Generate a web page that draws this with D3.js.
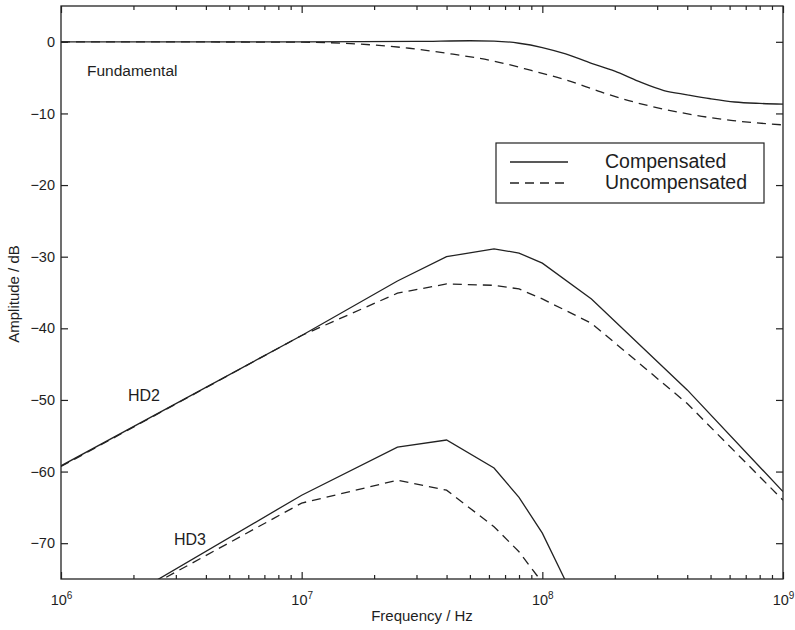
<!DOCTYPE html>
<html>
<head>
<meta charset="utf-8">
<script src="https://cdn.jsdelivr.net/npm/d3@7"></script>
<style>
body { margin: 0; background: #fff; }
svg text { font-family: "Liberation Sans", Arial, sans-serif; fill: #1e1e1e; }
.axis path { display: none; }
.axis line { stroke: #222; stroke-width: 1.2; }
.curve { fill: none; stroke: #222; stroke-width: 1.3; }
.dash { stroke-dasharray: 9,6; }
</style>
</head>
<body>
<div class="container"></div>
<script>
// fundamental
var fundFreqC = [1e6, 1e7, 3e7, 5e7, 6.3e7, 8e7, 1e8, 1.25e8, 1.6e8, 2e8, 2.5e8, 3.2e8, 4e8, 5e8, 6.3e8, 8e8, 1e9];
var fundComp  = [0, 0, 0.05, 0.15, 0.1, -0.2, -0.8, -1.7, -3.0, -4.1, -5.5, -6.8, -7.4, -7.95, -8.4, -8.6, -8.7];
var fundFreqU = [1e6, 1e7, 1.6e7, 2e7, 2.8e7, 4e7, 6.3e7, 9e7, 1.25e8, 1.75e8, 2.4e8, 3.3e8, 4.6e8, 6.2e8, 1e9];
var fundUncomp = [0, -0.05, -0.25, -0.45, -0.9, -1.6, -2.7, -4.0, -5.3, -7.0, -8.4, -9.5, -10.4, -11.0, -11.6];

// second harmonic
var hd2Freq   = [1e6, 1e7, 2.5e7, 4e7, 6.3e7, 8e7, 1e8, 1.6e8, 4e8, 1e9];
var hd2Comp   = [-59.2, -41.0, -33.4, -30.0, -28.9, -29.5, -30.9, -35.9, -48.6, -62.8];
var hd2Uncomp = [-59.3, -41.0, -35.1, -33.8, -34.0, -34.5, -35.9, -39.3, -50.5, -64.0];

// third harmonic
var hd3Freq   = [1e6, 1e7, 2.5e7, 4e7, 6.3e7, 8e7, 1e8, 1.25e8];
var hd3Comp   = [-83.0, -63.3, -56.6, -55.6, -59.5, -63.6, -68.6, -75.3];
var hd3Uncomp = [-82.8, -64.4, -61.2, -62.6, -67.7, -71.2, -75.5, -82.0];

var yTicks = [0, -10, -20, -30, -40, -50, -60, -70];
var xMajor = [1e6, 1e7, 1e8, 1e9];
var legendLabels = ["Compensated", "Uncompensated"];

var margin = {top: 6, right: 12, bottom: 51, left: 61};
var width = 795 - margin.left - margin.right;
var height = 630 - margin.top - margin.bottom;

var x = d3.scaleLog().domain([1e6, 1e9]).range([0, width]);
var y = d3.scaleLinear().domain([-75, 5]).range([height, 0]);

var xMinor = [];
xMajor.slice(0, 3).forEach(function(d) {
  for (var k = 2; k <= 9; k++) xMinor.push(d * k);
});

var svg = d3.select(".container")
    .append("svg")
    .attr("width", 795)
    .attr("height", 630)
    .append("g")
    .attr("transform", "translate(" + margin.left + "," + margin.top + ")");

svg.append("clipPath").attr("id", "clip")
    .append("rect").attr("width", width).attr("height", height);

// ticks (inside)
svg.append("g").attr("class", "axis")
    .attr("transform", "translate(0," + height + ")")
    .call(d3.axisBottom(x).tickValues(xMinor).tickSize(-4).tickSizeOuter(0).tickFormat(""));
var xb = svg.append("g").attr("class", "axis")
    .attr("transform", "translate(0," + height + ")")
    .call(d3.axisBottom(x).tickValues(xMajor).tickSize(-7).tickSizeOuter(0).tickPadding(16).tickFormat(""));
xb.selectAll(".tick text").each(function(d) {
  var t = d3.select(this).attr("font-size", 14.5).attr("text-anchor", "middle");
  t.append("tspan").text("10");
  t.append("tspan").attr("font-size", 10).attr("dy", "-0.6em").text(Math.round(Math.log10(d)));
});
svg.append("g").attr("class", "axis")
    .call(d3.axisTop(x).tickValues(xMinor).tickSize(-4).tickSizeOuter(0).tickFormat(""));
svg.append("g").attr("class", "axis")
    .call(d3.axisTop(x).tickValues(xMajor).tickSize(-7).tickSizeOuter(0).tickFormat(""));

svg.append("g").attr("class", "axis")
    .call(d3.axisLeft(y).tickValues(yTicks).tickSize(-7).tickSizeOuter(0).tickPadding(6))
    .selectAll("text").attr("font-size", 14.5);
svg.append("g").attr("class", "axis")
    .attr("transform", "translate(" + width + ",0)")
    .call(d3.axisRight(y).tickValues(yTicks).tickSize(-7).tickSizeOuter(0).tickFormat(""));

svg.append("rect")
    .attr("width", width).attr("height", height)
    .attr("fill", "none").attr("stroke", "#222").attr("stroke-width", 1.3);

function series(freq, vals) {
  return freq.map(function(f, i) { return {f: f, v: vals[i]}; });
}

var smooth = d3.line().curve(d3.curveMonotoneX)
    .x(function(d) { return x(d.f); })
    .y(function(d) { return y(d.v); });
var poly = d3.line()
    .x(function(d) { return x(d.f); })
    .y(function(d) { return y(d.v); });

var plot = svg.append("g").attr("clip-path", "url(#clip)");

plot.append("path").datum(series(fundFreqC, fundComp)).attr("class", "curve").attr("d", smooth);
plot.append("path").datum(series(fundFreqU, fundUncomp)).attr("class", "curve dash").attr("d", smooth);
plot.append("path").datum(series(hd2Freq, hd2Comp)).attr("class", "curve").attr("d", poly);
plot.append("path").datum(series(hd2Freq, hd2Uncomp)).attr("class", "curve dash").attr("d", poly);
plot.append("path").datum(series(hd3Freq, hd3Comp)).attr("class", "curve").attr("d", poly);
plot.append("path").datum(series(hd3Freq, hd3Uncomp)).attr("class", "curve dash").attr("d", poly);

// curve labels
svg.append("text").attr("x", 26).attr("y", 70).attr("font-size", 15.5).text("Fundamental");
svg.append("text").attr("x", 67).attr("y", 395).attr("font-size", 16).text("HD2");
svg.append("text").attr("x", 113).attr("y", 539).attr("font-size", 16).text("HD3");

// legend
var lg = svg.append("g").attr("transform", "translate(435,137)");
lg.append("rect").attr("width", 268).attr("height", 60)
    .attr("fill", "#fff").attr("stroke", "#222").attr("stroke-width", 1.2);
legendLabels.forEach(function(name, i) {
  var yy = 25 + i * 21;
  lg.append("line").attr("class", i ? "curve dash" : "curve")
      .attr("x1", 14).attr("x2", 72).attr("y1", yy - 6).attr("y2", yy - 6);
  lg.append("text").attr("x", 109).attr("y", yy).attr("font-size", 19.5).text(name);
});

// axis titles
svg.append("text")
    .attr("x", width / 2).attr("y", height + 42)
    .attr("text-anchor", "middle").attr("font-size", 15)
    .text("Frequency / Hz");
svg.append("text")
    .attr("transform", "translate(" + (19 - margin.left) + "," + (294 - margin.top) + ") rotate(-90)")
    .attr("text-anchor", "middle").attr("font-size", 15)
    .text("Amplitude / dB");
</script>
</body>
</html>
